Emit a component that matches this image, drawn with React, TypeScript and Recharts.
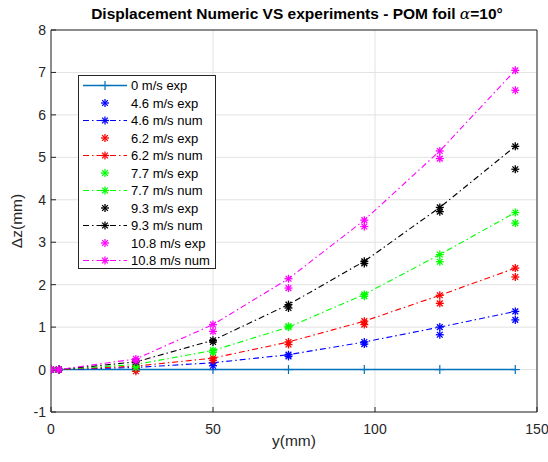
import React from 'react';
import { ComposedChart, Line, XAxis, YAxis, CartesianGrid, Legend } from 'recharts';

if (typeof document !== 'undefined') {
  document.body.style.margin = '0';
}

const FONT = '"Liberation Sans", Arial, Helvetica, sans-serif';
const AX = '#262626';

const xs = [0, 2.4, 26.2, 50, 73.3, 96.7, 120, 143.3];
const xTicks = [0, 50, 100, 150];
const yTicks = [-1, 0, 1, 2, 3, 4, 5, 6, 7, 8];

const v0exp = [0, 0, 0, 0, 0, 0, 0, 0];
const v46exp = [0, 0, 0.02, 0.09, 0.31, 0.6, 0.82, 1.17];
const v46num = [0, 0, 0.05, 0.16, 0.35, 0.65, 1.0, 1.37];
const v62exp = [0, 0, -0.04, 0.22, 0.59, 1.06, 1.56, 2.18];
const v62num = [0, 0, 0.08, 0.27, 0.65, 1.14, 1.75, 2.39];
const v77exp = [0, 0, 0.05, 0.41, 1.02, 1.73, 2.54, 3.45];
const v77num = [0, 0, 0.12, 0.45, 1.0, 1.77, 2.71, 3.7];
const v93exp = [0, 0, 0.2, 0.65, 1.45, 2.5, 3.72, 4.72];
const v93num = [0, 0, 0.18, 0.69, 1.53, 2.55, 3.82, 5.26];
const v108exp = [0, 0, 0.2, 0.9, 1.92, 3.37, 4.97, 6.58];
const v108num = [0, 0, 0.25, 1.06, 2.14, 3.52, 5.15, 7.05];

type Kind = 'solid' | 'exp' | 'num';
const seriesNames = [
  '0 m/s exp', '4.6 m/s exp', '4.6 m/s num', '6.2 m/s exp', '6.2 m/s num',
  '7.7 m/s exp', '7.7 m/s num', '9.3 m/s exp', '9.3 m/s num', '10.8 m/s exp', '10.8 m/s num',
];
const seriesValues = [v0exp, v46exp, v46num, v62exp, v62num, v77exp, v77num, v93exp, v93num, v108exp, v108num];
const seriesColors = ['#0072BD', '#0000FF', '#0000FF', '#FF0000', '#FF0000', '#00FF00', '#00FF00', '#000000', '#000000', '#FF00FF', '#FF00FF'];
const seriesKinds: Kind[] = ['solid', 'exp', 'num', 'exp', 'num', 'exp', 'num', 'exp', 'num', 'exp', 'num'];

const DASH = '6 3 1.5 3';

const series = seriesNames.map((name, i) => ({
  name,
  color: seriesColors[i],
  kind: seriesKinds[i],
  data: xs.map((x, j) => ({ x, y: seriesValues[i][j] })),
}));

function Star({ cx, cy, color, r = 4 }: { cx: number; cy: number; color: string; r?: number }) {
  const d = r * 0.72;
  return (
    <g stroke={color} strokeWidth={1.3} fill="none">
      <line x1={cx - r} y1={cy} x2={cx + r} y2={cy} />
      <line x1={cx} y1={cy - r} x2={cx} y2={cy + r} />
      <line x1={cx - d} y1={cy - d} x2={cx + d} y2={cy + d} />
      <line x1={cx - d} y1={cy + d} x2={cx + d} y2={cy - d} />
    </g>
  );
}

function Plus({ cx, cy, color, r = 4.5 }: { cx: number; cy: number; color: string; r?: number }) {
  return (
    <g stroke={color} strokeWidth={1.2} fill="none">
      <line x1={cx - r} y1={cy} x2={cx + r} y2={cy} />
      <line x1={cx} y1={cy - r} x2={cx} y2={cy + r} />
    </g>
  );
}

function LegendBox() {
  const w = 138;
  const rowH = 17.5;
  const h = 194;
  return (
    <svg width={w} height={h} style={{ display: 'block' }}>
      <rect x={0.5} y={0.5} width={w - 1} height={h - 1} fill="#fff" stroke={AX} strokeWidth={1} />
      {series.map((s, i) => {
        const cy = 10.5 + i * rowH;
        return (
          <g key={s.name}>
            {s.kind !== 'exp' && (
              <line x1={5} y1={cy} x2={49} y2={cy} stroke={s.color} strokeWidth={s.kind === 'solid' ? 1.4 : 1.1}
                strokeDasharray={s.kind === 'num' ? DASH : undefined} />
            )}
            {s.kind === 'solid' ? <Plus cx={27} cy={cy} color={s.color} /> : <Star cx={27} cy={cy} color={s.color} />}
            <text x={53} y={cy} dominantBaseline="central" fontSize={13} fontFamily={FONT} fill="#000">{s.name}</text>
          </g>
        );
      })}
    </svg>
  );
}

const TitleLabel = (props: any) => {
  const vb = props.viewBox || {};
  const cx = vb.x + vb.width / 2 + 3;
  return (
    <text x={cx} y={vb.y - 10} textAnchor="middle" fontFamily={FONT} fontSize={15.5} fontWeight="bold" fill="#000">
      Displacement Numeric VS experiments - POM foil{' '}
      <tspan fontStyle="italic" fontWeight="normal" fontFamily='"DejaVu Serif", serif'>α</tspan>
      <tspan>=10°</tspan>
    </text>
  );
};

const XLabel = (props: any) => {
  const vb = props.viewBox || {};
  return (
    <text x={vb.x + vb.width / 2} y={vb.y + 34} textAnchor="middle" fontFamily={FONT} fontSize={15.5} fill={AX}>
      y(mm)
    </text>
  );
};

const YLabel = (props: any) => {
  const vb = props.viewBox || {};
  const cx = vb.x + 22;
  const cy = vb.y + vb.height / 2;
  return (
    <text x={cx} y={cy} textAnchor="middle" transform={`rotate(-90 ${cx} ${cy})`} fontFamily={FONT} fontSize={15.5} fill={AX}>
      Δz(mm)
    </text>
  );
};

const tickStyle = { fill: AX, fontSize: 14, fontFamily: FONT };

export default function App() {
  return (
    <div style={{ width: 548, height: 462, background: '#fff' }}>
      <ComposedChart width={548} height={462} margin={{ top: 29, right: 10, bottom: 0, left: 0 }}>
        <CartesianGrid stroke="#e2e2e2" strokeWidth={1} />
        <XAxis dataKey="x" type="number" domain={[0, 150]} ticks={xTicks} allowDataOverflow
          height={50} tickSize={-5} tickMargin={17} stroke={AX} tick={tickStyle} label={<XLabel />} />
        <XAxis xAxisId="top" orientation="top" dataKey="x" type="number" domain={[0, 150]} ticks={xTicks}
          height={1} tickSize={-5} tick={false} stroke={AX} label={<TitleLabel />} />
        <YAxis type="number" domain={[-1, 8]} ticks={yTicks} allowDataOverflow width={51}
          tickSize={-5} tickMargin={10} stroke={AX} tick={tickStyle} label={<YLabel />} />
        <YAxis yAxisId="right" orientation="right" type="number" domain={[-1, 8]} ticks={yTicks}
          width={1} tickSize={-5} tick={false} stroke={AX} />
        {series.map((s) => (
          <Line
            key={s.name}
            data={s.data}
            dataKey="y"
            name={s.name}
            type="linear"
            stroke={s.kind === 'exp' ? 'none' : s.color}
            strokeWidth={s.kind === 'solid' ? 1.4 : 1.1}
            strokeDasharray={s.kind === 'num' ? DASH : undefined}
            isAnimationActive={false}
            activeDot={false}
            dot={(p: any) =>
              s.kind === 'solid'
                ? <Plus key={`${s.name}-${p.index}`} cx={p.cx} cy={p.cy} color={s.color} />
                : <Star key={`${s.name}-${p.index}`} cx={p.cx} cy={p.cy} color={s.color} />
            }
          />
        ))}
        <Legend layout="vertical" align="center" verticalAlign="middle"
          wrapperStyle={{ left: 78, top: 75, width: 138, height: 194 }}
          content={() => <LegendBox />} />
      </ComposedChart>
    </div>
  );
}
